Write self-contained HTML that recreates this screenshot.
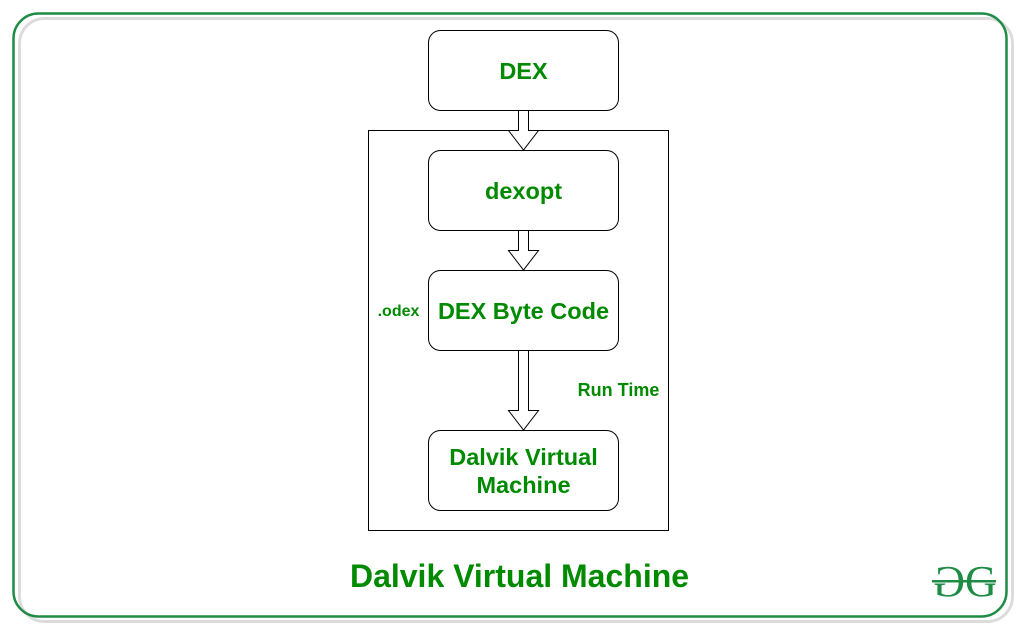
<!DOCTYPE html>
<html><head><meta charset="utf-8"><style>
html,body{margin:0;padding:0;background:#fff;width:1025px;height:631px;overflow:hidden}
</style></head><body>
<svg width="1025" height="631" viewBox="0 0 1025 631" xmlns="http://www.w3.org/2000/svg" font-family="Liberation Sans, Arial, sans-serif" font-weight="bold">
<rect x="19.5" y="18.5" width="993" height="603" rx="25" fill="none" stroke="#dcdcdc" stroke-width="3"/>
<rect x="13.5" y="13.5" width="993" height="603" rx="25" fill="none" stroke="#1e8c45" stroke-width="2.5"/>
<rect x="368.5" y="130.5" width="300" height="400" fill="none" stroke="#000" stroke-width="1"/>
<g fill="#fff" stroke="#000" stroke-width="1">
<rect x="428.5" y="30.5" width="190" height="80" rx="12"/>
<rect x="428.5" y="150.5" width="190" height="80" rx="12"/>
<rect x="428.5" y="270.5" width="190" height="80" rx="12"/>
<rect x="428.5" y="430.5" width="190" height="80" rx="12"/>
<path d="M518.5 110.5 V130.5 H508.5 L523.5 150 L538.5 130.5 H528.5 V110.5 Z"/>
<path d="M518.5 230.5 V250.5 H508.5 L523.5 270 L538.5 250.5 H528.5 V230.5 Z"/>
<path d="M518.5 350.5 V410.5 H508.5 L523.5 430 L538.5 410.5 H528.5 V350.5 Z"/>
</g>
<g fill="#008a00" text-anchor="middle">
<text x="523.5" y="79" font-size="23.5">DEX</text>
<text x="523.5" y="199" font-size="23.5">dexopt</text>
<text x="523.5" y="319" font-size="23.5">DEX Byte Code</text>
<text x="523.5" y="465" font-size="23.5">Dalvik Virtual</text>
<text x="523.5" y="493" font-size="23.5">Machine</text>
<text x="398.5" y="316" font-size="16">.odex</text>
<text x="618.5" y="396" font-size="18">Run Time</text>
<text x="519.5" y="587" font-size="32">Dalvik Virtual Machine</text>
</g>
<g fill="#1e8c45" font-family="Liberation Serif, serif" font-weight="normal" font-size="44">
<text x="0" y="0" transform="translate(965,596) scale(-1,1)" text-anchor="start">G</text>
<text x="965" y="596">G</text>
<rect x="932" y="580" width="64" height="2.5"/>
</g>
</svg>
</body></html>
